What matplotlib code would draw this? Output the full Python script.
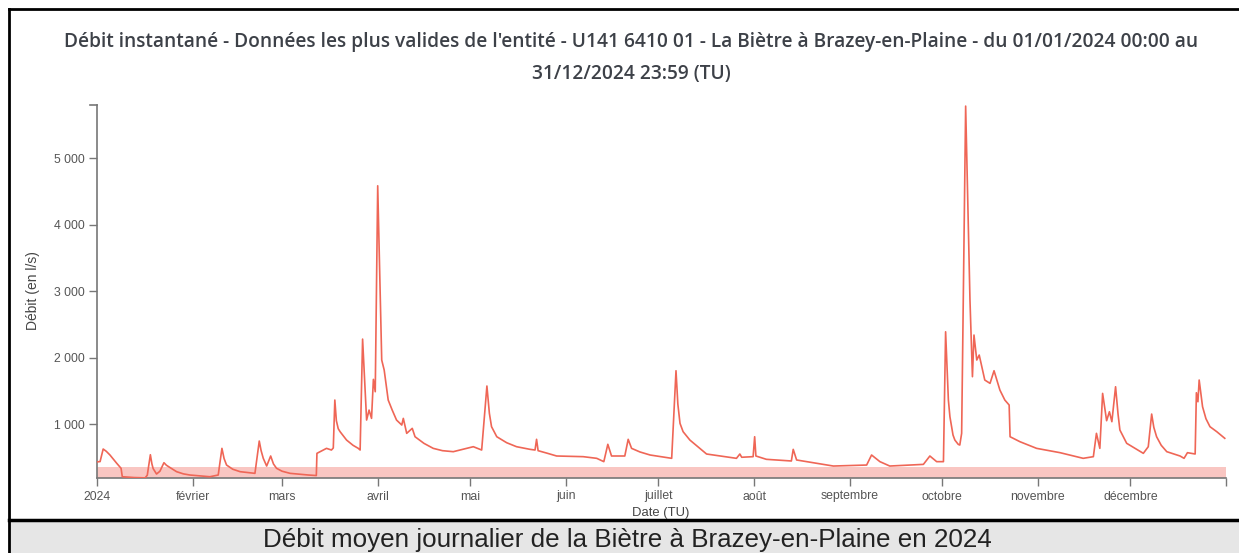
import matplotlib
matplotlib.use("Agg")
import matplotlib.pyplot as plt
from matplotlib.ticker import FuncFormatter
import pandas as pd
from matplotlib.patches import Rectangle
from matplotlib.lines import Line2D

# ---------------- data ----------------
# day offset since 2024-01-01 00:00 (fractional days) and flow in l/s
days = [0, 1.0, 2.0, 3.0, 4.2, 6.4, 7.8, 8.2, 12, 15.6, 16.3, 17.3, 17.8, 18.2, 19.3, 20.4,
        21.7, 22.5, 23.5, 25.8, 28, 30.1, 36.6, 39.3, 40.5, 41.2, 42, 44, 46.4, 51.2,
        52.6, 53.2, 53.9, 55, 56.3, 57.2, 58.2, 60, 62.6, 68.5, 71.1, 71.3, 74.4, 76,
        76.6, 77.1, 77.6, 78.2, 78.8, 80.9, 83, 84.7, 85.3, 86.1, 87.4, 88.2, 89, 89.6,
        90.2, 91, 92.3, 93.1, 94.4, 95.7, 97.1, 98.8, 99.3, 100.4, 102.2, 103.1, 106,
        109, 112, 115.5, 122, 124.7, 126.4, 127.2, 127.9, 129.6, 132.8, 136, 140.4, 142,
        142.5, 143, 146, 149, 153, 157.6, 162, 164.3, 165.6, 166.8, 171.1, 172.2, 173.3,
        176, 179.3, 186.3, 187.7, 188.3, 189, 190, 192.2, 195, 197.6, 202, 207.3, 208.4,
        209, 212.7, 213.2, 213.6, 217, 225.1, 225.7, 226.8, 233.3, 238.7, 249.5, 251.1,
        253.8, 257, 267.9, 270, 272.2, 274.4, 275.1, 276, 276.5, 277.5, 278.1, 279.2,
        279.7, 280.3, 281.6, 282.3, 283, 283.8, 284.3, 285.2, 286, 287.8, 289.5, 290.8,
        292.7, 294.3, 295.7, 296, 299.2, 304.6, 312.2, 319.7, 323, 324, 325.1, 326,
        327.3, 328.2, 329, 330.2, 331, 331.6, 333.8, 336.5, 339.2, 340.8, 341.9, 342.6,
        343.5, 345, 346.8, 351.1, 352.4, 353.5, 356, 356.4, 356.9, 357.3, 358.4, 359.5,
        360.8, 363, 365.6]
flow = [430, 435, 624, 590, 534, 409, 334, 207, 195, 190, 230, 538, 400, 330, 248, 290,
        418, 380, 350, 283, 250, 233, 207, 233, 634, 480, 383, 320, 283, 258,
        744, 600, 484, 368, 519, 400, 334, 290, 258, 233, 225, 559, 634, 609,
        640, 1361, 1050, 930, 885, 759, 680, 634, 609, 2278, 1060, 1210, 1085, 1672,
        1486, 4584, 1963, 1812, 1361, 1210, 1060, 985, 1085, 860, 935, 809, 709,
        634, 599, 584, 659, 609, 1572, 1161, 960, 809, 719, 659, 619, 609,
        770, 599, 560, 519, 515, 509, 484, 434, 695, 519, 519, 770, 634,
        580, 534, 484, 1802, 1300, 1010, 885, 759, 649, 549, 520, 484, 549,
        500, 509, 809, 519, 469, 444, 619, 459, 409, 368, 383, 534,
        434, 368, 393, 519, 434, 434, 2388, 1361, 1110, 835, 759, 694,
        684, 860, 5783, 4300, 2865, 1712, 2339, 1963, 2038, 1662, 1612, 1802,
        1511, 1361, 1286, 809, 734, 634, 569, 484, 509, 860, 634, 1461,
        1050, 1185, 1035, 1561, 1150, 910, 710, 634, 559, 659, 1150, 950,
        809, 680, 584, 519, 484, 569, 549, 1471, 1335, 1662, 1260, 1080,
        960, 885, 785]

threshold = 353  # pink band upper limit (l/s)

month_labels = ["2024", "février", "mars", "avril", "mai", "juin", "juillet",
                "août", "septembre", "octobre", "novembre", "décembre"]
y_ticks = [1000, 2000, 3000, 4000, 5000]

title_text = ("Débit instantané - Données les plus valides de l'entité - U141 6410 01 - "
              "La Biètre à Brazey-en-Plaine - du 01/01/2024 00:00 au\n31/12/2024 23:59 (TU)")
caption_text = "Débit moyen journalier de la Biètre à Brazey-en-Plaine en 2024"

# ---------------- figure ----------------
W, H = 1239, 553
fig = plt.figure(figsize=(W / 100, H / 100), dpi=100)
fig.patch.set_facecolor("white")

def fx(px):
    return px / W

def fy(py):
    return 1 - py / H

ax_l, ax_r, ax_t, ax_b = 97, 1226, 105, 478
ax = fig.add_axes([fx(ax_l), fy(ax_b), fx(ax_r - ax_l), (ax_b - ax_t) / H])

start = pd.Timestamp("2024-01-01 00:00")
end = pd.Timestamp("2024-12-31 23:59")
times = [start + pd.Timedelta(days=d) for d in days]

ymin, ymax = 188, 5800
ax.axhspan(ymin, threshold, color="#f9c6c2", lw=0, zorder=1)
ax.plot(times, flow, color="#ef6656", lw=1.2, zorder=3, solid_joinstyle="round")

ax.set_xlim(start, end)
ax.set_ylim(ymin, ymax)

axis_col = "#777777"
text_col = "#555555"
for s in ["top", "right"]:
    ax.spines[s].set_visible(False)
for s in ["left", "bottom"]:
    ax.spines[s].set_color(axis_col)
    ax.spines[s].set_linewidth(1.2)

month_starts = [pd.Timestamp(2024, m, 1) for m in range(1, 13)]
ax.set_xticks(month_starts + [end])
ax.set_xticklabels(month_labels + [""])
ax.set_yticks(y_ticks)
ax.yaxis.set_major_formatter(FuncFormatter(lambda v, p: f"{int(v):,}".replace(",", " ")))
ax.tick_params(axis="both", colors=axis_col, labelcolor=text_col, length=6, width=1,
               labelsize=8.8)
for lab in ax.get_xticklabels() + ax.get_yticklabels():
    lab.set_fontfamily("Liberation Sans")
ax.tick_params(axis="x", pad=3)
ax.tick_params(axis="y", pad=3)
# outer tick at top of y-axis
ax.plot([-0.006, 0], [1, 1], transform=ax.transAxes, color=axis_col, lw=1.2, clip_on=False)

fig.text(fx(661), fy(513), "Date (TU)", ha="center", va="center", fontsize=9.4,
         color="#444444", family="Liberation Sans")
fig.text(fx(33), fy(291), "Débit (en l/s)", ha="center", va="center", rotation=90,
         fontsize=10, color="#444444", family="Liberation Sans")

t = fig.text(fx(631), fy(58), title_text, ha="center", va="center", fontsize=11,
             color="#3d4148", family="Open Sans", fontweight="semibold", linespacing=1.75)
c = fig.text(fx(627), fy(540), caption_text, ha="center", va="center", fontsize=15,
             color="#222222", family="Liberation Sans")

# fit text widths to reference
fig.canvas.draw()
r = fig.canvas.get_renderer()
t_first = fig.text(0, 0, title_text.split("\n")[0], fontsize=11, family="Open Sans",
                   fontweight="semibold")
w1 = t_first.get_window_extent(r).width
t_first.remove()
t.set_fontsize(11 * 1132 / w1)
wc = c.get_window_extent(r).width
c.set_fontsize(c.get_fontsize() * 730 / wc)

# frame and caption box
fig.patches.append(Rectangle((fx(10), 0), 1 - fx(10), fy(520), transform=fig.transFigure,
                             facecolor="#e6e6e6", edgecolor="none", zorder=0))
black = "#000000"
fig.lines.append(Line2D([fx(9), fx(9)], [0, fy(9)], transform=fig.transFigure, color=black, lw=2))
fig.lines.append(Line2D([fx(9), 1], [fy(9), fy(9)], transform=fig.transFigure, color=black, lw=2))
fig.lines.append(Line2D([fx(9), 1], [fy(520), fy(520)], transform=fig.transFigure, color=black, lw=2.5))

fig.savefig("out.png", dpi=100)
